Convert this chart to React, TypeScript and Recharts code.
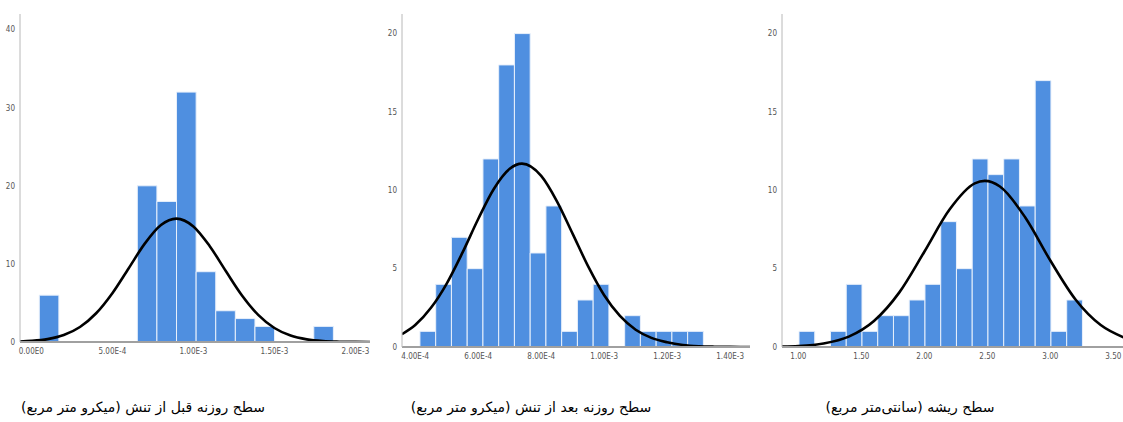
import React from 'react';
import { ComposedChart, Line, XAxis, YAxis, ReferenceArea } from 'recharts';

// panel 1: stomata area before stress
const p1BinLo = [0.49e-4, 1.70e-4, 2.91e-4, 4.12e-4, 5.33e-4, 6.54e-4, 7.75e-4, 8.96e-4, 10.17e-4, 11.38e-4, 12.59e-4, 13.80e-4, 15.01e-4, 16.22e-4, 17.43e-4];
const p1BinWidth = 1.21e-4;
const p1Counts = [6, 0, 0, 0, 0, 20, 18, 32, 9, 4, 3, 2, 0, 0, 2];
const p1CurveX = [-0.7e-4, 0, 1e-4, 2e-4, 3e-4, 4e-4, 5e-4, 6e-4, 7e-4, 8e-4, 8.95e-4, 10e-4, 11e-4, 12e-4, 13e-4, 14e-4, 15e-4, 16e-4, 17e-4, 18e-4, 19e-4, 20e-4, 20.9e-4];
const p1CurveY = [0.06, 0.14, 0.37, 0.89, 1.92, 3.68, 6.25, 9.42, 12.6, 14.98, 15.8, 14.8, 12.3, 9.09, 5.96, 3.47, 1.79, 0.82, 0.34, 0.12, 0.04, 0.01, 0.0];
const p1XTicks = [0, 5e-4, 10e-4, 15e-4, 20e-4];
const p1XLabels = ['0.00E0', '5.00E-4', '1.00E-3', '1.50E-3', '2.00E-3'];
const p1YTicks = [0, 10, 20, 30, 40];

// panel 2: stomata area after stress
const p2BinLo = [4.15e-4, 4.65e-4, 5.15e-4, 5.65e-4, 6.15e-4, 6.65e-4, 7.15e-4, 7.65e-4, 8.15e-4, 8.65e-4, 9.15e-4, 9.65e-4, 10.15e-4, 10.65e-4, 11.15e-4, 11.65e-4, 12.15e-4, 12.65e-4];
const p2BinWidth = 0.5e-4;
const p2Counts = [1, 4, 7, 5, 12, 18, 20, 6, 9, 1, 3, 4, 0, 2, 1, 1, 1, 1];
const p2CurveX = [3.58e-4, 4e-4, 4.5e-4, 5e-4, 5.5e-4, 6e-4, 6.5e-4, 7e-4, 7.39e-4, 8e-4, 8.5e-4, 9e-4, 9.5e-4, 10e-4, 10.5e-4, 11e-4, 11.5e-4, 12e-4, 12.5e-4, 13e-4, 13.5e-4, 14e-4, 14.63e-4];
const p2CurveY = [0.82, 1.4, 2.5, 4.05, 6.02, 8.17, 10.1, 11.37, 11.7, 10.92, 9.3, 7.22, 5.11, 3.3, 1.98, 1.1, 0.58, 0.3, 0.13, 0.05, 0.02, 0.01, 0.0];
const p2XTicks = [4e-4, 6e-4, 8e-4, 10e-4, 12e-4, 14e-4];
const p2XLabels = ['4.00E-4', '6.00E-4', '8.00E-4', '1.00E-3', '1.20E-3', '1.40E-3'];
const p2YTicks = [0, 5, 10, 15, 20];

// panel 3: root area
const p3BinLo = [1.005, 1.13, 1.255, 1.38, 1.505, 1.63, 1.755, 1.88, 2.005, 2.13, 2.255, 2.38, 2.505, 2.63, 2.755, 2.88, 3.005, 3.13];
const p3BinWidth = 0.125;
const p3Counts = [1, 0, 1, 4, 1, 2, 2, 3, 4, 8, 5, 12, 11, 12, 9, 17, 1, 3];
const p3CurveX = [0.87, 1.0, 1.2, 1.4, 1.6, 1.8, 2.0, 2.2, 2.4, 2.48, 2.6, 2.8, 3.0, 3.2, 3.4, 3.58];
const p3CurveY = [0.03, 0.06, 0.22, 0.66, 1.66, 3.47, 6.08, 8.77, 10.44, 10.6, 10.24, 8.28, 5.52, 3.03, 1.4, 0.62];
const p3XTicks = [1.0, 1.5, 2.0, 2.5, 3.0, 3.5];
const p3XLabels = ['1.00', '1.50', '2.00', '2.50', '3.00', '3.50'];
const p3YTicks = [0, 5, 10, 15, 20];

const captions = [
  'سطح روزنه قبل از تنش (میکرو متر مربع)',
  'سطح روزنه بعد از تنش (میکرو متر مربع)',
  'سطح ریشه (سانتی‌متر مربع)',
];

const BAR = '#4f8fe0';
const tickFont = { fontSize: 8, fill: '#555', fontFamily: "'Liberation Sans Narrow', 'DejaVu Sans Condensed', 'Liberation Sans', sans-serif" };

type HistProps = {
  left: number;
  width: number;
  height: number;
  yAxisWidth: number;
  binLo: number[];
  binWidth: number;
  counts: number[];
  curveX: number[];
  curveY: number[];
  xDomain: [number, number];
  yMax: number;
  xTicks: number[];
  xLabels: string[];
  yTicks: number[];
};

const Hist: React.FC<HistProps> = (p) => {
  const curve = p.curveX.map((x, i) => ({ x, y: p.curveY[i] }));
  return (
    <div style={{ position: 'absolute', left: p.left, top: 0 }}>
      <ComposedChart width={p.width} height={p.height} data={curve} margin={{ top: 14, right: 0, left: 0, bottom: 0 }}>
        <XAxis
          dataKey="x"
          type="number"
          domain={p.xDomain}
          allowDataOverflow
          ticks={p.xTicks}
          tickFormatter={(v: number) => {
            const i = p.xTicks.findIndex((t) => Math.abs(t - v) < 1e-9);
            return i >= 0 ? p.xLabels[i] : '';
          }}
          interval={0}
          height={28}
          tickLine={false}
          tickSize={3}
          tickMargin={3}
          axisLine={{ stroke: '#a0a0a0', strokeWidth: 2 }}
          tick={tickFont}
        />
        <YAxis
          type="number"
          domain={[0, p.yMax]}
          allowDataOverflow
          ticks={p.yTicks}
          interval={0}
          width={p.yAxisWidth}
          tickLine={false}
          tickSize={3}
          tickMargin={2}
          axisLine={{ stroke: '#b8b8b8', strokeWidth: 1 }}
          tick={tickFont}
        />
        {p.binLo.map((lo, i) =>
          p.counts[i] > 0 ? (
            <ReferenceArea
              key={i}
              x1={lo}
              x2={lo + p.binWidth}
              y1={0}
              y2={p.counts[i]}
              fill={BAR}
              fillOpacity={1}
              stroke="#e8f0fb"
              strokeWidth={1}
            />
          ) : null
        )}
        <Line
          type="monotone"
          dataKey="y"
          stroke="#000"
          strokeWidth={2.6}
          dot={false}
          activeDot={false}
          isAnimationActive={false}
        />
      </ComposedChart>
    </div>
  );
};

const captionStyle: React.CSSProperties = {
  position: 'absolute',
  top: 399,
  direction: 'rtl',
  fontFamily: "'DejaVu Sans', sans-serif",
  fontSize: 14,
  color: '#000',
  whiteSpace: 'nowrap',
  transform: 'translateX(-50%)',
};

export default function App() {
  return (
    <div style={{ position: 'absolute', left: 0, top: 0, width: 1123, height: 422, background: '#fff', overflow: 'hidden' }}>
      <Hist left={0} width={370} height={370} yAxisWidth={20} binLo={p1BinLo} binWidth={p1BinWidth} counts={p1Counts}
        curveX={p1CurveX} curveY={p1CurveY} xDomain={[-0.7e-4, 20.9e-4]} yMax={42} xTicks={p1XTicks} xLabels={p1XLabels} yTicks={p1YTicks} />
      <Hist left={380} width={370} height={375} yAxisWidth={22} binLo={p2BinLo} binWidth={p2BinWidth} counts={p2Counts}
        curveX={p2CurveX} curveY={p2CurveY} xDomain={[3.58e-4, 14.63e-4]} yMax={21.25} xTicks={p2XTicks} xLabels={p2XLabels} yTicks={p2YTicks} />
      <Hist left={760} width={363} height={375} yAxisWidth={22} binLo={p3BinLo} binWidth={p3BinWidth} counts={p3Counts}
        curveX={p3CurveX} curveY={p3CurveY} xDomain={[0.87, 3.577]} yMax={21.25} xTicks={p3XTicks} xLabels={p3XLabels} yTicks={p3YTicks} />
      <div style={{ ...captionStyle, left: 143 }}>{captions[0]}</div>
      <div style={{ ...captionStyle, left: 531 }}>{captions[1]}</div>
      <div style={{ ...captionStyle, left: 910 }}>{captions[2]}</div>
    </div>
  );
}
